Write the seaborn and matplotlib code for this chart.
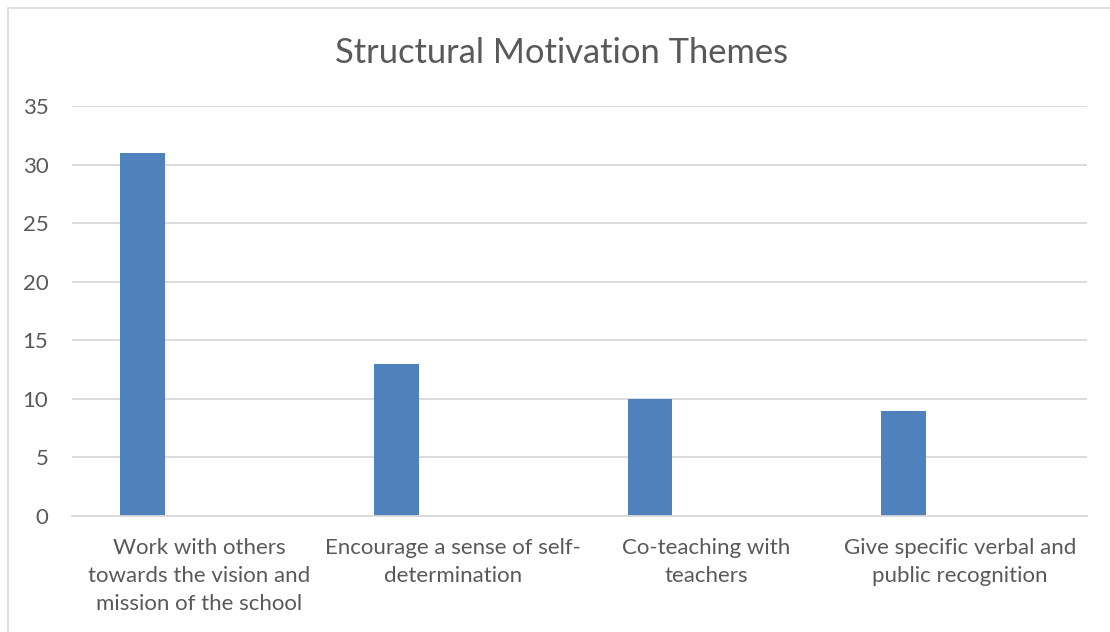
import matplotlib
matplotlib.use("Agg")
import matplotlib.pyplot as plt
import seaborn as sns
import pandas as pd
import numpy as np
from matplotlib.patches import Rectangle

categories = [
    "Work with others\ntowards the vision and\nmission of the school",
    "Encourage a sense of self-\ndetermination",
    "Co-teaching with\nteachers",
    "Give specific verbal and\npublic recognition",
]
values = [31, 13, 10, 9]
y_ticks = [0, 5, 10, 15, 20, 25, 30, 35]
title = "Structural Motivation Themes"

sns.set_theme(style="white")
plt.rcParams['font.family'] = ['Lato', 'DejaVu Sans']

fig = plt.figure(figsize=(11.10, 6.32), dpi=100)
ax = fig.add_axes([72/1110, 1-516/632, (1087-72)/1110, (516-106)/632])

idx = np.arange(len(categories))
offset = -0.222
df = pd.DataFrame({"pos": idx + offset, "value": values})
sns.barplot(data=df, x="pos", y="value", native_scale=True, width=0.177,
            color="#4f81bd", saturation=1, ax=ax, edgecolor="none")

ax.set_xlim(-0.5, len(categories) - 0.5)
ax.set_ylim(0, 35)
ax.set_yticks(y_ticks)
ax.set_xticks(idx)
ax.set_xticklabels(categories, linespacing=1.53)
ax.set_xlabel("")
ax.set_ylabel("")
ax.grid(axis="y", color="#d9d9d9", linewidth=1.3)
ax.set_axisbelow(True)
for s in ["top", "right", "left"]:
    ax.spines[s].set_visible(False)
ax.spines["bottom"].set_color("#d9d9d9")
ax.spines["bottom"].set_linewidth(1.3)
ax.tick_params(axis="x", length=0, pad=15.5, labelsize=16, labelcolor="#595959")
ax.tick_params(axis="y", length=0, pad=17, labelsize=16, labelcolor="#595959")

fig.text(562/1110, 1-53/632, title, ha="center", va="center",
         fontsize=24.8, color="#595959")

# chart frame
fig.patches.append(Rectangle((7.5/1110, -0.1), 1.2, 1-7.5/632+0.1,
                             transform=fig.transFigure, fill=False,
                             edgecolor="#d9d9d9", linewidth=1.2))

fig.savefig("out.png", dpi=100)
